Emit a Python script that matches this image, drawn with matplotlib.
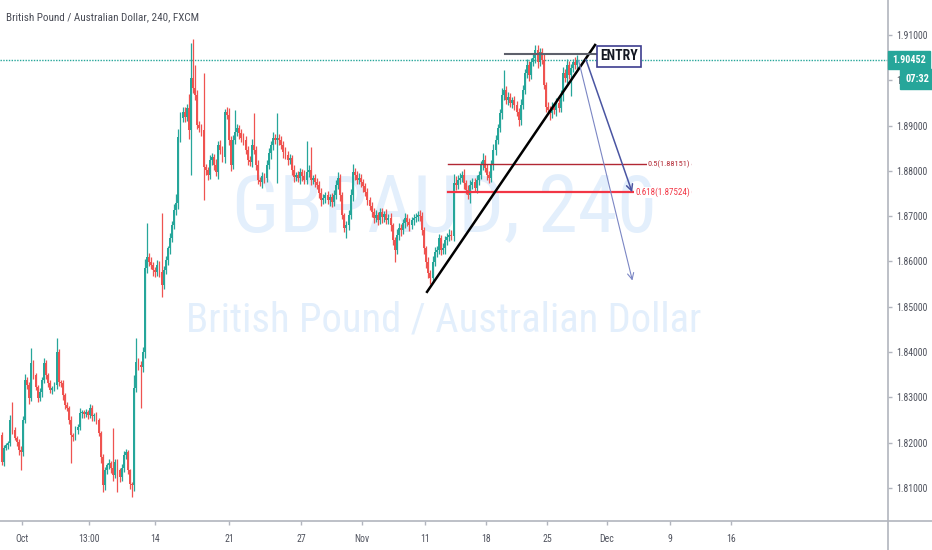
import numpy as np
import matplotlib
matplotlib.use("Agg")
import matplotlib.pyplot as plt
from matplotlib.patches import FancyArrowPatch
from matplotlib.textpath import TextPath
from matplotlib.font_manager import FontProperties, fontManager
import matplotlib.transforms as mtransforms

TITLE = "British Pound / Australian Dollar, 240, FXCM"
WATERMARK = "GBPAUD, 240"
WATERMARK_SUB = "British Pound / Australian Dollar"

# 4h closes (open of each bar = previous close)
FIRST_OPEN = 1.8216
CLOSES = [
    1.8157, 1.8188, 1.8194, 1.8199, 1.8250, 1.8228, 1.8210, 1.8201, 1.8183, 1.8179, 1.8250, 1.8338, 1.8327, 1.8298, 1.8376, 1.8349, 1.8322, 1.8298, 1.8311, 1.8338, 1.8376, 1.8349, 1.8331, 1.8316, 1.8320,
    1.8327, 1.8400, 1.8334, 1.8331, 1.8305, 1.8283, 1.8276, 1.8250, 1.8216, 1.8212, 1.8228, 1.8234, 1.8265, 1.8267, 1.8263, 1.8267, 1.8261, 1.8276, 1.8258, 1.8261, 1.8250, 1.8221, 1.8168, 1.8106, 1.8139,
    1.8150, 1.8155, 1.8144, 1.8128, 1.8157, 1.8139, 1.8124, 1.8144, 1.8172, 1.8179, 1.8139, 1.8108, 1.8106, 1.8320, 1.8378, 1.8371, 1.8367, 1.8400, 1.8585, 1.8610, 1.8599, 1.8592, 1.8581, 1.8576, 1.8592,
    1.8576, 1.8548, 1.8581, 1.8603, 1.8629, 1.8651, 1.8680, 1.8713, 1.8729, 1.8875, 1.8916, 1.8930, 1.8919, 1.8939, 1.8890, 1.9005, 1.8983, 1.8967, 1.8901, 1.8894, 1.8890, 1.8808, 1.8802, 1.8791, 1.8824,
    1.8830, 1.8813, 1.8797, 1.8857, 1.8846, 1.8830, 1.8930, 1.8923, 1.8868, 1.8813, 1.8868, 1.8886, 1.8894, 1.8883, 1.8872, 1.8868, 1.8846, 1.8824, 1.8819, 1.8857, 1.8846, 1.8813, 1.8780, 1.8775, 1.8788,
    1.8784, 1.8813, 1.8839, 1.8857, 1.8872, 1.8868, 1.8872, 1.8868, 1.8857, 1.8841, 1.8835, 1.8824, 1.8828, 1.8802, 1.8786, 1.8791, 1.8784, 1.8797, 1.8788, 1.8780, 1.8797, 1.8802, 1.8780, 1.8784, 1.8775,
    1.8769, 1.8751, 1.8735, 1.8740, 1.8746, 1.8735, 1.8742, 1.8731, 1.8746, 1.8769, 1.8784, 1.8746, 1.8702, 1.8674, 1.8680, 1.8702, 1.8746, 1.8797, 1.8791, 1.8780, 1.8784, 1.8775, 1.8766, 1.8753, 1.8735,
    1.8722, 1.8709, 1.8696, 1.8702, 1.8691, 1.8709, 1.8698, 1.8705, 1.8691, 1.8696, 1.8680, 1.8647, 1.8625, 1.8658, 1.8674, 1.8669, 1.8685, 1.8696, 1.8687, 1.8680, 1.8691, 1.8696, 1.8698, 1.8702, 1.8700,
    1.8669, 1.8629, 1.8599, 1.8574, 1.8563, 1.8599, 1.8621, 1.8625, 1.8651, 1.8625, 1.8629, 1.8647, 1.8654, 1.8658, 1.8656, 1.8773, 1.8769, 1.8780, 1.8784, 1.8791, 1.8773, 1.8758, 1.8746, 1.8769, 1.8775,
    1.8762, 1.8780, 1.8791, 1.8813, 1.8824, 1.8806, 1.8791, 1.8784, 1.8813, 1.8846, 1.8868, 1.8894, 1.8927, 1.8967, 1.8978, 1.8956, 1.8963, 1.8950, 1.8956, 1.8945, 1.8930, 1.8912, 1.8945, 1.8978, 1.9016,
    1.9034, 1.9011, 1.9040, 1.9049, 1.9067, 1.9040, 1.9062, 1.9045, 1.8989, 1.8941, 1.8934, 1.8927, 1.8939, 1.8934, 1.8950, 1.8939, 1.8967, 1.9016, 1.9005, 1.9034, 1.9011, 1.9027, 1.9040, 1.9034, 1.90452,
]
# wick lengths beyond the body, in pips
UP_WICK = [
    8, 6, 5, 4, 12, 40, 6, 5, 7, 9, 10, 14, 8, 6, 33, 7, 5, 6, 9, 8, 12, 6, 5, 7, 6,
    8, 31, 6, 5, 7, 4, 6, 5, 9, 6, 8, 7, 12, 6, 5, 8, 6, 10, 7, 5, 6, 4, 5, 8, 7,
    6, 9, 5, 88, 7, 6, 5, 8, 10, 6, 5, 4, 6, 30, 53, 8, 9, 12, 20, 75, 8, 10, 6, 7, 12,
    9, 132, 8, 10, 6, 12, 9, 14, 20, 18, 15, 12, 10, 8, 30, 77, 86, 50, 12, 9, 10, 126, 8, 6, 12,
    10, 8, 14, 9, 12, 8, 6, 10, 15, 8, 12, 48, 10, 8, 9, 12, 8, 10, 9, 14, 70, 8, 10, 6, 9,
    8, 10, 12, 9, 14, 10, 55, 9, 10, 8, 12, 9, 10, 8, 12, 7, 9, 10, 8, 14, 69, 10, 51, 8, 9,
    10, 8, 12, 9, 7, 10, 8, 9, 12, 10, 14, 9, 8, 6, 10, 12, 14, 18, 9, 8, 12, 10, 8, 7, 9,
    8, 10, 9, 12, 8, 10, 9, 7, 10, 8, 12, 6, 8, 14, 10, 8, 9, 12, 8, 10, 7, 9, 8, 10, 12,
    9, 8, 6, 10, 8, 14, 12, 10, 9, 8, 12, 10, 9, 14, 12, 20, 15, 10, 12, 9, 14, 8, 10, 12, 9,
    10, 12, 9, 8, 15, 12, 9, 8, 10, 14, 12, 10, 9, 15, 45, 10, 12, 9, 8, 10, 9, 8, 14, 12, 10,
    12, 9, 10, 8, 11, 12, 9, 10, 14, 8, 10, 9, 12, 8, 10, 9, 12, 14, 10, 12, 9, 10, 8, 12, 10,
]
DN_WICK = [
    6, 8, 5, 7, 6, 9, 5, 8, 10, 40, 8, 6, 9, 12, 7, 8, 6, 9, 7, 10, 6, 8, 9, 7, 8,
    6, 8, 9, 7, 10, 8, 6, 8, 61, 9, 7, 8, 6, 10, 9, 7, 8, 6, 9, 10, 8, 7, 12, 14, 10,
    8, 9, 10, 12, 7, 48, 10, 8, 9, 7, 8, 10, 26, 12, 9, 10, 91, 12, 14, 10, 9, 8, 12, 10, 9,
    10, 26, 8, 9, 10, 12, 9, 8, 10, 14, 12, 9, 10, 8, 20, 100, 12, 10, 9, 8, 12, 72, 10, 12, 9,
    10, 12, 9, 14, 8, 10, 12, 9, 10, 14, 9, 8, 10, 12, 9, 10, 8, 12, 9, 10, 8, 12, 10, 9, 12,
    10, 9, 8, 12, 10, 8, 95, 10, 9, 12, 8, 10, 9, 12, 10, 8, 9, 12, 10, 9, 8, 10, 12, 9, 10,
    9, 10, 12, 8, 10, 9, 12, 10, 8, 9, 10, 12, 9, 8, 23, 10, 9, 12, 10, 8, 9, 10, 12, 9, 10,
    8, 10, 12, 9, 10, 8, 12, 10, 9, 8, 12, 10, 26, 9, 10, 12, 8, 10, 9, 12, 8, 10, 9, 8, 10,
    10, 12, 14, 10, 12, 9, 10, 12, 8, 10, 9, 12, 10, 8, 9, 10, 12, 9, 10, 8, 12, 10, 9, 17, 10,
    9, 10, 12, 8, 10, 9, 12, 10, 8, 12, 10, 9, 8, 12, 10, 9, 10, 8, 12, 10, 9, 12, 10, 8, 9,
    10, 12, 9, 8, 10, 12, 9, 10, 8, 12, 9, 15, 10, 8, 12, 9, 10, 12, 8, 10, 9, 45, 8, 10, 9,
]

LAST_PRICE = 1.90452
COUNTDOWN = "07:32"

PRICE_TICKS = [1.81, 1.82, 1.83, 1.84, 1.85, 1.86, 1.87, 1.88, 1.89, 1.90, 1.91]
DATE_TICKS = [9.5, 41.4, 72.9, 108.1, 142.4, 171.4, 201.4, 230.5, 259.5, 288.1, 318.1, 347.1]
DATE_LABELS = ["Oct", "13:00", "14", "21", "27", "Nov", "11", "18", "25", "Dec", "9", "16"]

# user drawings: (bar index, price)
TREND_LINE = [(202.4, 1.8533), (282.4, 1.9078)]
ENTRY_LINE = [(239.5, 1.9058), (283.8, 1.9058)]
ENTRY_LABEL = (293.8, 1.9053)
FIB_START, FIB_END = 212.4, 327.6
FIB_LEVELS = [0.5, 0.618]
FIB_PRICES = [1.88151, 1.87524]
ARROW_NEAR = [(277.6, 1.9052), (300.5, 1.8747)]
ARROW_FAR = [(274.3, 1.9049), (300.5, 1.8552)]

GREEN = "#26a69a"
RED = "#ef5350"
AXIS_C = "#b2b5be"
TEXT_C = "#50535e"

_names = {f.name for f in fontManager.ttflist}
FONT = next((n for n in ["Liberation Sans Narrow", "Roboto Condensed", "Open Sans Condensed",
                         "Liberation Sans", "Roboto"] if n in _names), "DejaVu Sans")
plt.rcParams["font.family"] = [FONT, "DejaVu Sans"]


def fit_size(text, width_px, weight="normal"):
    # font size (pt) that makes `text` about width_px wide at 100 dpi
    w = TextPath((0, 0), text, size=10,
                 prop=FontProperties(family=FONT, weight=weight)).get_extents().width
    return 10 * width_px / (w * 100 / 72)


closes = np.array(CLOSES)
opens = np.concatenate([[FIRST_OPEN], closes[:-1]])
highs = np.maximum(opens, closes) + np.array(UP_WICK) * 1e-4
lows = np.minimum(opens, closes) - np.array(DN_WICK) * 1e-4
idx = np.arange(len(closes))
up = closes >= opens
colors = np.where(up, GREEN, RED)

fig = plt.figure(figsize=(9.32, 5.5), dpi=100)
ax = fig.add_axes([0, 29 / 550, 888 / 932, 521 / 550])
ax.set_xlim(-0.95, 421.9)
ax.set_ylim(1.802715, 1.917726)

# watermark
ax.text(0.5, 0.597, WATERMARK, transform=ax.transAxes, ha="center", va="center",
        fontsize=fit_size(WATERMARK, 415), color="#e3effc", zorder=0)
ax.text(0.5, 0.386, WATERMARK_SUB, transform=ax.transAxes, ha="center", va="center",
        fontsize=fit_size(WATERMARK_SUB, 512), color="#e3effc", zorder=0)

# candles
ax.vlines(idx, lows, highs, colors=colors, linewidth=0.9, zorder=2)
body = np.maximum(np.abs(closes - opens), 0.00008)
ax.bar(idx, body, bottom=np.minimum(opens, closes), width=0.9, color=colors,
       linewidth=0, zorder=3)

# last price line
ax.axhline(LAST_PRICE, color=GREEN, linewidth=1, linestyle=(0, (1, 1)), zorder=1)

# drawings
(x0, y0), (x1, y1) = TREND_LINE
ax.plot([x0, x1], [y0, y1], color="black", linewidth=1.8, zorder=5)
(x0, y0), (x1, y1) = ENTRY_LINE
ax.plot([x0, x1], [y0, y1], color="#5d606b", linewidth=1.5, zorder=5)
ax.text(ENTRY_LABEL[0], ENTRY_LABEL[1], "ENTRY", ha="center", va="center",
        fontsize=fit_size("ENTRY", 37, "bold"), fontweight="bold", color="#131722", zorder=6,
        bbox=dict(boxstyle="square,pad=0.25", fc="white", ec="#3d3d8f", lw=1.2))

fib_cols = ["#b22833", "#f23645"]
fib_lw = [1.0, 1.6]
fib_w = [41, 54]
for lvl, p, c, lw, w in zip(FIB_LEVELS, FIB_PRICES, fib_cols, fib_lw, fib_w):
    lab = f"{lvl}({p:.5f})"
    ax.plot([FIB_START, FIB_END], [p, p], color=c, linewidth=lw, zorder=4)
    ax.text(FIB_END, p, lab, ha="right", va="center", fontsize=fit_size(lab, w),
            color=c, zorder=6, bbox=dict(fc="white", ec="none", pad=0.6))

for (a, b), c, lw in [(ARROW_NEAR, "#4a55a2", 1.1), (ARROW_FAR, "#7b86c4", 0.8)]:
    ax.add_patch(FancyArrowPatch(a, b, arrowstyle="->,head_length=0.5,head_width=0.25",
                                 mutation_scale=9, color=c, linewidth=lw, zorder=5))

# axes styling
for s in ["left", "top", "right", "bottom"]:
    ax.spines[s].set_visible(False)
ax.yaxis.tick_right()
ax.set_yticks(PRICE_TICKS)
ax.set_yticklabels([f"{p:.5f}" for p in PRICE_TICKS])
ax.set_xticks(DATE_TICKS)
ax.set_xticklabels(DATE_LABELS)
tick_fs = fit_size("1.91000", 30)
ax.tick_params(axis="both", colors=AXIS_C, labelcolor=TEXT_C, labelsize=tick_fs, length=3, width=1)
ax.tick_params(axis="y", pad=3)
ax.tick_params(axis="x", pad=6)

fig.add_artist(plt.Line2D([888 / 932, 888 / 932], [0, 1], color=AXIS_C, linewidth=1.2))
fig.add_artist(plt.Line2D([0, 1], [29 / 550, 29 / 550], color=AXIS_C, linewidth=1.2))

# price / countdown tags on the scale
ytr = mtransforms.blended_transform_factory(fig.transFigure, ax.transData)
fig.text(892 / 932, LAST_PRICE, f"{LAST_PRICE:.5f}", transform=ytr, ha="left", va="center",
         fontsize=fit_size("1.90452", 32, "bold"), color="white", fontweight="bold",
         bbox=dict(boxstyle="square,pad=0.4", fc=GREEN, ec=GREEN))
fig.text(905 / 932, 1 - 79 / 550, COUNTDOWN, ha="left", va="center",
         fontsize=fit_size(COUNTDOWN, 23, "bold"), color="white", fontweight="bold",
         bbox=dict(boxstyle="square,pad=0.45", fc=GREEN, ec=GREEN))

fig.text(6 / 932, 1 - 17 / 550, TITLE, ha="left", va="center",
         fontsize=fit_size(TITLE, 191), color="#4a4d57")

fig.savefig("out.png", dpi=100)
